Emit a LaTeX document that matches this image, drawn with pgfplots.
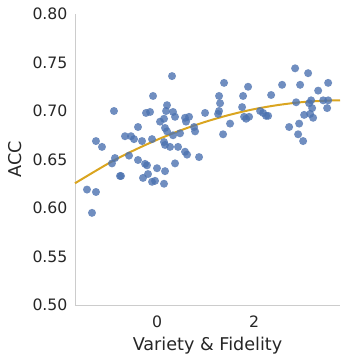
\documentclass[border=0pt]{standalone}
\usepackage{pgfplots}
\pgfplotsset{compat=1.18}
\usepackage{fontspec}
\setmainfont{DejaVu Sans}
\definecolor{sbblue}{HTML}{4C72B0}
\definecolor{sbgold}{HTML}{DAA520}
\definecolor{txt}{HTML}{262626}
\begin{document}
\begin{tikzpicture}
\begin{axis}[
  scale only axis,
  width=265pt, height=291pt,
  xmin=-1.69, xmax=3.77, ymin=0.5, ymax=0.8,
  axis x line*=bottom, axis y line*=left,
  axis line style={draw=black!20, line width=0.9pt},
  xtick={0,2}, ytick={0.5,0.55,0.6,0.65,0.7,0.75,0.8},
  major tick length=0pt,
  /pgf/number format/assume math mode=true,
  yticklabel style={/pgf/number format/fixed, /pgf/number format/fixed zerofill, /pgf/number format/precision=2},
  ticklabel style={font=\fontsize{15.7}{18}\selectfont, text=txt},
  xticklabel style={yshift=-7pt},
  yticklabel style={xshift=-4pt},
  label style={font=\fontsize{17.6}{20}\selectfont, text=txt},
  xlabel={Variety \& Fidelity},
  ylabel={ACC},
  xlabel style={yshift=-3pt},
  ylabel style={yshift=4pt},
  clip=false,
]
\addplot[only marks, color=sbblue, mark=*, mark size=4pt, mark options={fill=sbblue, draw opacity=0, fill opacity=0.8}] coordinates {
(-1.340,0.595) (-1.443,0.619) (-1.258,0.6165) (-1.258,0.669) (-1.134,0.663)
(-0.887,0.700) (-0.928,0.646) (-0.866,0.6515) (-0.763,0.633) (-0.742,0.633)
(-0.660,0.674) (-0.536,0.674) (-0.474,0.671) (-0.577,0.654) (-0.392,0.6835)
(-0.392,0.6495) (-0.309,0.669) (-0.227,0.698) (-0.144,0.699) (-0.247,0.6455)
(-0.206,0.644) (-0.289,0.631) (-0.186,0.635) (-0.082,0.7155) (-0.103,0.671)
(-0.041,0.628) (0.000,0.641) (-0.103,0.627) (0.062,0.689) (0.144,0.692)
(0.186,0.700) (0.165,0.6825) (0.206,0.679) (0.144,0.668) (0.165,0.665)
(0.165,0.638) (0.144,0.625) (0.206,0.706) (0.268,0.663) (0.309,0.736)
(0.330,0.699) (0.371,0.694) (0.330,0.675) (0.371,0.646) (0.433,0.663)
(0.474,0.677) (0.577,0.693) (0.598,0.689) (0.577,0.658) (0.619,0.655)
(0.660,0.694) (0.784,0.679) (0.763,0.6835) (0.866,0.6525) (0.990,0.698)
(1.278,0.7155) (1.299,0.708) (1.381,0.729) (1.278,0.700) (1.258,0.697)
(1.361,0.676) (1.505,0.687) (1.753,0.704) (1.773,0.7155) (1.794,0.694)
(1.876,0.725) (1.897,0.694) (1.835,0.692) (2.124,0.700) (2.186,0.698)
(2.247,0.695) (2.289,0.695) (2.351,0.7165) (2.577,0.727) (2.722,0.6835)
(2.845,0.744) (2.866,0.709) (2.907,0.676) (2.928,0.687) (2.948,0.727)
(3.010,0.669) (3.113,0.739) (3.134,0.708) (3.155,0.697) (3.175,0.711)
(3.196,0.703) (3.216,0.693) (3.320,0.721) (3.423,0.711) (3.526,0.711)
(3.526,0.729) (3.505,0.703) (3.031,0.696)
};
\addplot[sbgold, line width=2pt, smooth] coordinates {
(-1.69,0.6255) (-1.0,0.646) (-0.5,0.6589) (0,0.6703) (0.5,0.6803) (1.0,0.6889)
(1.5,0.6961) (2.0,0.7019) (2.5,0.7062) (3.0,0.7092) (3.5,0.7107) (3.77,0.711)
};
\end{axis}
\pgfresetboundingbox
\path[use as bounding box] (current axis.south west) ++(-75pt,-56pt) rectangle ([shift={(7pt,14pt)}]current axis.north east);
\end{tikzpicture}
\end{document}
